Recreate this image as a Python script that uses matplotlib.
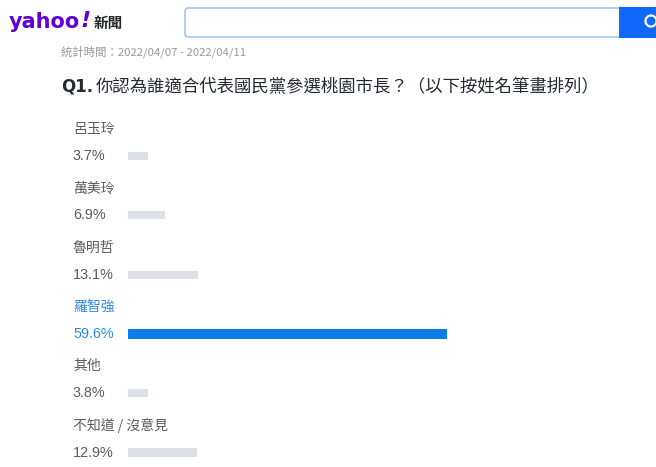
import matplotlib.pyplot as plt
from matplotlib.patches import Rectangle, FancyBboxPatch, Arc

plt.rcParams['font.family'] = ['Noto Sans CJK TC', 'DejaVu Sans']

# poll data
names = ['呂玉玲', '萬美玲', '魯明哲', '羅智強', '其他', '不知道 / 沒意見']
shares = [3.7, 6.9, 13.1, 59.6, 3.8, 12.9]
winner = 3
question = '你認為誰適合代表國民黨參選桃園市長？（以下按姓名筆畫排列）'
period = '統計時間：2022/04/07 - 2022/04/11'

W, H = 656, 467
fig = plt.figure(figsize=(W / 100, H / 100), dpi=100)
fig.patch.set_facecolor('white')

# header layer in pixel coords
hd = fig.add_axes([0, 0, 1, 1])
hd.set_xlim(0, W)
hd.set_ylim(H, 0)
hd.axis('off')

hd.text(9, 22, 'yahoo', fontsize=15, fontweight='heavy', color='#6001d2',
        va='center', ha='left', family='DejaVu Sans')
hd.text(80, 21, '!', fontsize=16, fontweight='heavy', color='#6001d2',
        va='center', ha='left', family='DejaVu Sans', style='italic')
hd.text(94, 23, '新聞', fontsize=10.5, color='#26282a', va='center', ha='left',
        fontweight='bold')

hd.add_patch(FancyBboxPatch((185, 8), 440, 29, boxstyle='round,pad=0,rounding_size=3',
                            facecolor='white', edgecolor='#8fbdf0', lw=1.0))
hd.add_patch(Rectangle((619, 7), 40, 31, facecolor='#0f69ff', edgecolor='none'))
hd.add_patch(Arc((651, 21), 11, 11, theta1=0, theta2=360, color='white', lw=1.6))

hd.text(61, 52, period, fontsize=8.2, color='#9a9a9a', va='center', ha='left')
hd.text(61, 86, 'Q1.', fontsize=12, fontweight='bold', color='#232a31',
        va='center', ha='left', family='DejaVu Sans')
hd.text(96, 86, question, fontsize=12.5, color='#232a31', va='center', ha='left')

# chart layer: x in percent, y in rows
ax = fig.add_axes([0, 0, 1, 1])
ax.patch.set_alpha(0)
px_per_pct = 319 / 59.6
row_px = 59.3
x0, y0 = 128, 156
ax.set_xlim(-x0 / px_per_pct, (W - x0) / px_per_pct)
ax.set_ylim((H - y0) / row_px, -y0 / row_px)
ax.axis('off')

rows = list(range(len(names)))
colors = ['#0a7ee6' if i == winner else '#dde1e6' for i in rows]
heights = [0.16 if i == winner else 0.135 for i in rows]
ax.barh(rows, shares, height=heights, color=colors, left=0)

lx = (73 - x0) / px_per_pct
for i, (n, v) in enumerate(zip(names, shares)):
    c = '#2d8ae0' if i == winner else '#5b5b5b'
    ax.text(lx, i - 27 / row_px, n, fontsize=10, color=c, va='center', ha='left')
    ax.text(lx, i, f'{v}%', fontsize=10.4, color=c, va='center', ha='left',
            family=['Liberation Sans', 'DejaVu Sans'])

fig.savefig('out.png', dpi=100)
